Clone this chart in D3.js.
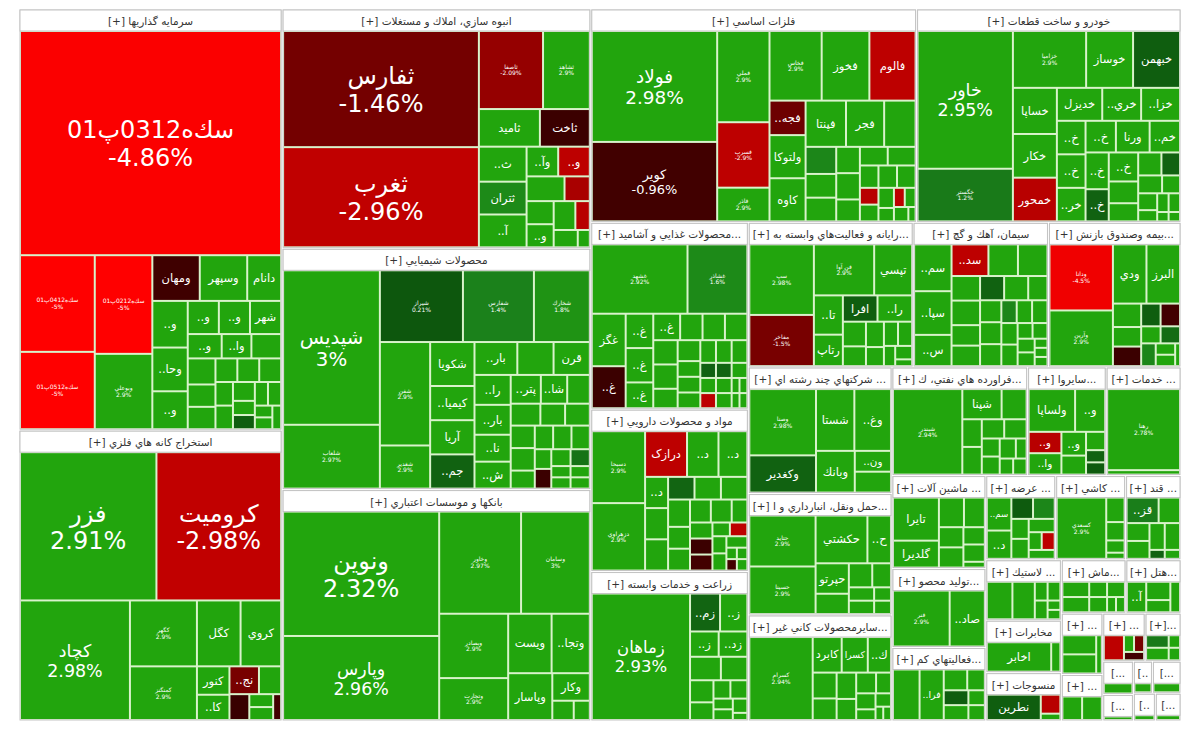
<!DOCTYPE html>
<html>
<head>
<meta charset="utf-8">
<script src="https://cdn.jsdelivr.net/npm/d3@7"></script>
<style>
body { margin: 0; background: #fff; }
svg { display: block; }
</style>
</head>
<body>
<div id="chart"></div>
<script>

// sector names, in the order they sit on the map
var sectorNames = [
    "سرمايه گذاريها", "استخراج كانه هاي فلزي", "انبوه سازي، املاك و مستغلات", "محصولات شيميايي",
    "بانكها و موسسات اعتباري", "فلزات اساسي", "خودرو و ساخت قطعات",
    "محصولات غذايي و آشاميدني به جز قند و شكر", "مواد و محصولات دارويي", "زراعت و خدمات وابسته",
    "رايانه و فعاليت‌هاي وابسته به آن", "سيمان، آهك و گچ", "بيمه وصندوق بازنشستگي به جزتامين اجتماعي",
    "شركتهاي چند رشته اي صنعتي", "حمل ونقل، انبارداري و ارتباطات", "سايرمحصولات كاني غيرفلزي",
    "فراورده هاي نفتي، كك و سوخت هسته اي", "سايرواسطه گريهاي مالي", "خدمات فني و مهندسي",
    "ماشين آلات و تجهيزات", "توليد محصولات فلزي", "فعاليتهاي كمكي به نهادهاي مالي واسط",
    "عرضه برق، گاز، بخاروآب گرم", "كاشي و سراميك", "قند و شكر",
    "لاستيك و پلاستيك", "مخابرات", "منسوجات", "ماشين آلات و دستگاههاي برقي", "هتل و رستوران",
    "محصولات كاغذي", "سايرشركتها", "ساخت دستگاهها و وسايل ارتباطي", "محصولات چوبي",
    "استخراج زغال سنگ", "انتشار، چاپ و تكثير", "استخراج ساير معادن", "دباغي، پرداخت چرم",
    "اطلاعات و ارتباطات", "استخراج نفت گاز"
];

// market weight of each sector (share of the map)
var sectorSizes = [
    1092, 754, 728, 734, 704, 685, 556,
    290, 252, 232, 235, 193, 189,
    179, 172, 150, 145, 84, 80,
    86, 73, 68, 58, 58, 46,
    45, 39, 36, 34, 29, 25, 19, 20, 17,
    10, 8, 6, 9, 6, 7
];

// [symbol, change %, weight]
var investStocks = [
    ["سك‌ه0312پ01", -4.86, 567], ["سك‌ه0412پ01", -5, 70], ["سك‌ه0512پ01", -5, 56], ["سك‌ه0212پ01", -5, 55],
    ["وبوعلي", 2.9, 42], ["ومهان", -0.9, 21], ["وسپهر", 2.9, 21], ["دانام", 2.9, 15],
    ["..و", 2.9, 16], ["..وحا", 2.9, 15], ["..و", 2.9, 13], ["..و", 2.9, 10], ["..و", 2.9, 10], ["شهر", 2.9, 10],
    ["..و", 2.9, 8], ["..وا", 2.9, 7], ["", 2.9, 7], ["", 2.9, 7], ["", 2.9, 6], ["", 2.9, 6], ["", 2.9, 5],
    ["", 2.9, 5], ["", 2.9, 5], ["", 2.9, 4], ["", 2.9, 4], ["", 2.9, 4], ["", 2.9, 3], ["", 0.4, 3],
    ["", 2.9, 3], ["", 2.9, 3], ["", 2.9, 2], ["", 2.9, 2], ["", 2.9, 2]
];
var miningStocks = [
    ["فزر", 2.91, 197], ["كروميت", -2.98, 180], ["كچاد", 2.98, 128], ["كگهر", 2.9, 43], ["كمنگنز", 2.9, 35],
    ["كگل", 2.9, 28], ["كروي", 2.9, 26], ["كنور", 2.9, 9], ["..كا", 2.9, 8], ["..نج", -1.5, 8],
    ["", 2.9, 6], ["", -0.7, 5], ["", 2.9, 3], ["", 2.9, 3], ["", -1, 2]
];
var buildStocks = [
    ["ثفارس", -1.46, 218], ["ثغرب", -2.96, 188], ["ثاصفا", -2.09, 48], ["ثشاهد", 2.9, 35], ["ثاميد", 2.9, 22],
    ["ثاخت", -0.8, 18], ["..ث", 2.9, 16], ["ثتران", 1.6, 15], ["..آ", 2.9, 15], ["..وآ", 2.9, 9],
    ["..و", -2.9, 9], ["", 2.9, 9], ["", -2.5, 6], ["", 2.9, 6], ["..و", 2.9, 6], ["", 2.9, 6],
    ["", -2.8, 4], ["", 2.9, 4], ["", 2.9, 2]
];
var chemStocks = [
    ["شپديس", 3, 138], ["شلعاب", 2.97, 57], ["شيراز", 0.21, 55], ["شفارس", 1.4, 47], ["شخارك", 1.8, 37],
    ["شفن", 2.9, 48], ["شغدير", 2.9, 20], ["شكويا", 2.9, 18], ["..كيميا", 2.9, 14], ["آريا", 2.9, 14],
    ["..جم", 0.5, 14], ["..بار", 2.9, 13], ["", 2.9, 11], ["قرن", 2.9, 11], ["..را", 2.9, 10], ["..بار", 2.9, 10],
    ["..نا", 2.9, 9], ["..ش", 2.9, 9], ["..پتر", 2.9, 8], ["..شا", 2.9, 7], ["", 2.9, 6], ["", 2.9, 6],
    ["", 2.9, 5], ["", 2.9, 5], ["", 2.9, 5], ["", 2.9, 5], ["", 2.9, 4], ["", 2.9, 4], ["", 2.9, 4],
    ["", 2.9, 4], ["", 2.9, 3], ["", -0.8, 3], ["", 2.9, 3], ["", 1.0, 3], ["", 2.9, 2], ["", 2.9, 2],
    ["", 2.9, 2], ["", 2.9, 2]
];
var bankStocks = [
    ["ونوين", 2.32, 188], ["وپارس", 2.96, 127], ["وخاور", 2.97, 81], ["وسامان", 3, 68], ["وبصادر", 2.9, 43],
    ["وتجارت", 2.9, 28], ["ويست", 2.9, 25], ["..وتجا", 2.9, 22], ["وپاسار", 2.9, 20], ["وكار", 2.9, 10],
    ["", 2.9, 4], ["", 2.9, 3]
];
var metalStocks = [
    ["فولاد", 2.98, 134], ["كوير", -0.96, 96], ["فملي", 2.9, 46], ["فسرب", -2.9, 33], ["فاذر", 2.9, 17],
    ["فخاس", 2.9, 35], ["فخوز", 2.9, 32], ["فالوم", -2.9, 31], ["..فجه", -1.4, 12], ["ولتوكا", 2.9, 15],
    ["كاوه", 2.9, 15], ["فپنتا", 2.9, 18], ["فجر", 2.9, 17], ["", 2.9, 14], ["", 1.5, 8], ["", 2.9, 7],
    ["", 2.9, 7], ["", 2.9, 6], ["", 2.9, 6], ["", 2.9, 5], ["", 2.9, 5], ["", 2.9, 5], ["", 2.9, 4],
    ["", 2.9, 4], ["", 2.9, 4], ["", -2.8, 3], ["", 2.9, 3], ["", 2.9, 3], ["", 2.9, 2], ["", -2.9, 2],
    ["", 2.9, 2], ["", 2.9, 2], ["", 2.9, 1]
];
var autoStocks = [
    ["خاور", 2.95, 123], ["خگستر", 1.2, 47], ["خزاميا", 2.9, 39], ["خوساز", 2.9, 25], ["خبهمن", 0.4, 25],
    ["خساپا", 2.9, 19], ["خكار", 2.9, 18], ["خمحور", -2.8, 18], ["خديزل", 2.9, 14], ["..خري", 2.9, 12],
    ["..خزا", 2.9, 12], ["..خ", 2.9, 9], ["..خ", 2.9, 9], ["..خر", 2.9, 9], ["..خ", 2.9, 9], ["ورنا", 2.9, 10],
    ["..خم", 2.9, 9], ["..خ", 2.9, 8], ["..خ", 0.5, 7], ["..خ", 2.9, 8], ["", 2.9, 6], ["", 2.9, 5],
    ["", 2.9, 5], ["", 0.5, 4], ["", 2.9, 4], ["", 2.9, 3], ["", 2.9, 3], ["", 2.9, 2], ["", 2.9, 2],
    ["", 2.9, 2], ["", 2.9, 1], ["", 2.9, 1]
];
var foodStocks = [
    ["غشهد", 2.92, 56], ["غشاذر", 1.6, 35], ["غگز", 2.9, 15], ["..غ", -0.8, 12], ["..غ", 2.9, 8], ["..غ", 2.9, 8],
    ["..غ", 2.9, 6], ["..غ", 2.9, 6], ["", 2.9, 5], ["", 2.9, 5], ["", 2.9, 5], ["", 2.9, 5], ["", 2.9, 5],
    ["", 2.9, 4], ["", 2.9, 4], ["", 2.9, 3], ["", 2.9, 3], ["", 2.9, 3], ["", 2.9, 3], ["", 2.9, 3],
    ["", 2.9, 3], ["", 0.5, 2], ["", 2.9, 2], ["", -2.9, 2], ["", 0.6, 2], ["", 2.9, 2], ["", 2.9, 2],
    ["", 2.9, 2], ["", 2.9, 1], ["", 2.9, 1], ["", 2.9, 1], ["", 2.9, 1]
];
var pharmaStocks = [
    ["دسبحا", 2.9, 32], ["دزهراوي", 2.9, 30], ["درازک", -2.9, 16], ["..د", 2.9, 12], ["..د", 2.9, 11],
    ["..د", 2.9, 6], ["", 2.9, 6], ["", 2.9, 6], ["", 0.6, 5], ["", 2.9, 5], ["", 2.9, 5], ["", 2.9, 5],
    ["", 2.9, 4], ["", 2.9, 4], ["", 2.9, 4], ["", 2.9, 4], ["", 2.9, 3], ["", 2.9, 3], ["", -0.8, 3],
    ["", -1, 3], ["", 2.9, 2], ["", -2.9, 2], ["", 2.9, 2], ["", 2.9, 2], ["", 2.9, 2], ["", 2.9, 1],
    ["", 2.9, 1], ["", -1, 1], ["", 2.9, 1]
];
var farmStocks = [
    ["زماهان", 2.93, 120], ["..زم", 0.6, 11], ["..ز", 2.9, 10], ["..ز", 2.9, 7], ["..زد", 2.9, 7], ["", 2.9, 7],
    ["", 2.9, 6], ["", 2.9, 5], ["", 2.9, 4], ["", 2.9, 3], ["", 2.9, 3], ["", 2.9, 2], ["", 2.9, 2],
    ["", 2.9, 2], ["", 2.9, 1]
];
var computerStocks = [
    ["سپ", 2.98, 40], ["مفاخر", -1.5, 29], ["فن آوا", 2.9, 27], ["تپسي", 2.9, 17], ["..تا", 2.9, 10],
    ["رتاپ", 2.9, 8], ["افرا", 0.4, 8], ["..را", 2.9, 8], ["", 2.9, 5], ["", 2.9, 4], ["", 2.9, 4],
    ["", 2.9, 3], ["", 2.9, 3], ["", 2.9, 3], ["", 2.9, 2], ["", 2.9, 2], ["", 2.9, 1]
];
var cementStocks = [
    ["..سم", 2.9, 15], ["..سپا", 2.9, 14], ["..س", 2.9, 10], ["..سد", -2.9, 10], ["", 2.9, 8], ["", 2.9, 8],
    ["", 2.9, 6], ["", 2.9, 6], ["", 2.9, 5], ["", 2.9, 5], ["", 0.5, 5], ["", 2.9, 5], ["", 2.9, 4],
    ["", 2.9, 4], ["", 2.9, 4], ["", 2.9, 4], ["", 1.5, 3], ["", 2.9, 3], ["", 2.9, 3], ["", 2.9, 3],
    ["", 2.9, 3], ["", 2.9, 2], ["", 2.9, 2], ["", 2.9, 2], ["", 2.9, 2], ["", 2.9, 1], ["", 2.9, 1],
    ["", 2.9, 1]
];
var insureStocks = [
    ["ودانا", -4.5, 38], ["وآرين", 2.9, 32], ["ودي", 2.9, 18], ["البرز", 2.9, 18], ["", 2.9, 6], ["", 2.9, 5],
    ["", -0.8, 5], ["", 0.4, 4], ["", -1, 4], ["", 2.9, 3], ["", 0.8, 3], ["", 1.5, 3], ["", 2.9, 2],
    ["", 2.9, 2], ["", 2.9, 1]
];
var multiStocks = [
    ["وصنا", 2.98, 41], ["وكغدير", 0.5, 23], ["شستا", 2.9, 22], ["..وغ", 2.9, 21], ["وبانك", 2.9, 15],
    ["..ون", 2.9, 7], ["", 2.9, 7]
];
var transportStocks = [
    ["حتايد", 2.9, 30], ["حسينا", 2.9, 28], ["حكشتي", 2.9, 22], ["..ح", 2.9, 10], ["حپرتو", 2.9, 9],
    ["", 2.9, 6], ["", 2.9, 5], ["", 2.9, 4], ["", 2.9, 3], ["", 2.9, 3], ["", 2.9, 2], ["", 2.9, 2]
];
var mineralStocks = [
    ["كسرام", 2.94, 51], ["كابرد", 2.9, 10], ["كسرا", 2.9, 9], ["..ك", 2.9, 8], ["", 2.9, 6], ["", 2.9, 5],
    ["", 2.9, 5], ["", 2.9, 4], ["", 2.9, 4], ["", 2.9, 3], ["", 2.9, 3], ["", 2.9, 2], ["", 2.9, 2],
    ["", 2.9, 1], ["", 2.9, 1]
];
var oilStocks = [
    ["شبندر", 2.94, 55], ["شپنا", 2.9, 11], ["", 2.9, 7], ["", 2.9, 5], ["", 2.9, 5], ["", 2.9, 4],
    ["", 2.9, 4], ["", 2.9, 3], ["", 2.9, 3], ["", 2.9, 3], ["", 2.9, 2], ["", 2.9, 2], ["", 2.9, 2]
];
var financeStocks = [
    ["ولساپا", 2.9, 17], ["..و", 2.9, 11], ["..و", -2.8, 6], ["..وا", 2.9, 6], ["..و", 2.9, 5], ["", 2.9, 4],
    ["", 2.9, 3], ["", 0.5, 2], ["", 0.3, 2]
];
var serviceStocks = [["رهنا", 2.78, 55], ["", 2.9, 3]];
var machineStocks = [
    ["تايرا", 2.9, 16], ["گلديرا", 2.9, 10], ["", 2.9, 6], ["", 2.9, 5], ["", 2.9, 4], ["", 2.9, 4],
    ["", 2.9, 3], ["", 2.9, 3], ["", 2.9, 1]
];
var metalProdStocks = [["فنر", 2.9, 29], ["..صاد", 2.9, 18]];
var auxStocks = [
    ["", 2.9, 11], ["..فرا", 2.9, 10], ["", 2.9, 4], ["", 2.9, 3], ["", 0.4, 3], ["", 2.9, 3], ["", 2.9, 2],
    ["", 2.9, 2]
];
var powerStocks = [
    ["..سم", 2.9, 7], ["..د", 2.9, 6], ["", 0.3, 4], ["", 1.5, 4], ["", 2.9, 3], ["", 2.9, 3], ["", 2.9, 3],
    ["", 2.9, 2], ["", -2.9, 2], ["", 2.9, 2]
];
var tileStocks = [["كسعدي", 2.9, 27], ["", 2.9, 4], ["", 2.9, 3], ["", 2.9, 2], ["", 2.9, 1]];
var sugarStocks = [
    ["..قز", 1.3, 6], ["", 2.9, 4], ["", 2.9, 3], ["", 2.9, 3], ["", 2.9, 3], ["", 2.9, 3], ["", 0.5, 1],
    ["", 2.9, 1]
];
var rubberStocks = [["", 2.9, 8], ["", 2.9, 7], ["", 2.9, 2], ["", 2.9, 2], ["", 2.9, 2], ["", 2.9, 1], ["", 2.9, 1]];
var telecomStocks = [["اخابر", 2.9, 14], ["", 2.9, 2]];
var textileStocks = [["نطرين", 0.4, 11], ["", -2.8, 3], ["", 2.9, 1]];
var electricStocks = [["", 2.9, 3], ["", 2.9, 3], ["", 2.9, 2], ["", 2.9, 2], ["", 2.9, 2], ["", 2.9, 1], ["", 2.9, 1]];
var hotelStocks = [["..آ", 2.9, 4], ["", 2.9, 3], ["", 2.9, 2], ["", 2.9, 2]];
var paperStocks = [["", 2.9, 3], ["", 2.9, 3], ["", 2.9, 1]];
var otherStocks = [["", 2.9, 2], ["", 2.9, 2]];
var deviceStocks = [["", -2.9, 3], ["", 2.9, 1], ["", -1.5, 1], ["", -1, 1]];
var woodStocks = [["", 1.2, 2], ["", 2.9, 2], ["", 2.9, 1], ["", 2.9, 1]];
var coalStocks = [["", 2.9, 1]];
var printStocks = [["", 2.9, 1]];
var otherMineStocks = [["", 2.9, 1]];
var leatherStocks = [["", 2.9, 1]];
var infoStocks = [["", 2.9, 1]];
var gasStocks = [["", 2.9, 1]];

var sectorStocks = [
    investStocks, miningStocks, buildStocks, chemStocks, bankStocks, metalStocks, autoStocks,
    foodStocks, pharmaStocks, farmStocks, computerStocks, cementStocks, insureStocks,
    multiStocks, transportStocks, mineralStocks, oilStocks, financeStocks, serviceStocks,
    machineStocks, metalProdStocks, auxStocks, powerStocks, tileStocks, sugarStocks,
    rubberStocks, telecomStocks, textileStocks, electricStocks, hotelStocks,
    paperStocks, otherStocks, deviceStocks, woodStocks,
    coalStocks, printStocks, otherMineStocks, leatherStocks, infoStocks, gasStocks
];

// symbols the map prints in small type with their change
var smallPrint = [
    "سك‌ه0412پ01", "سك‌ه0512پ01", "سك‌ه0212پ01", "وبوعلي", "كگهر", "كمنگنز", "ثاصفا", "ثشاهد",
    "شلعاب", "شيراز", "شفارس", "شخارك", "شفن", "شغدير", "وخاور", "وسامان", "وبصادر", "وتجارت",
    "فملي", "فسرب", "فاذر", "فخاس", "خگستر", "خزاميا", "غشهد", "غشاذر", "دسبحا", "دزهراوي",
    "سپ", "مفاخر", "فن آوا", "ودانا", "وآرين", "وصنا", "حتايد", "حسينا", "كسرام", "شبندر", "رهنا",
    "فنر", "كسعدي"
];


var width = 1200;
var height = 736;
var font = "DejaVu Sans, sans-serif";

var redScale = d3.scaleLinear()
    .domain([-5, -3, -1.5, -1, 0])
    .range(["#ff0000", "#c20000", "#780000", "#420000", "#200000"])
    .clamp(true);
var greenScale = d3.scaleLinear()
    .domain([0, 0.2, 1.4, 2.2])
    .range(["#073507", "#0d570d", "#1b811b", "#22a50d"])
    .clamp(true);

function tileColor(pct) {
    return pct < 0 ? redScale(pct) : greenScale(pct);
}

var data = {
    name: "bourse",
    children: sectorNames.map(function(name, i) {
        var list = sectorStocks[i];
        var total = d3.sum(list, function(s) { return s[2]; });
        return {
            name: name,
            children: list.map(function(s) {
                return { name: s[0], pct: s[1], size: sectorSizes[i] * s[2] / total };
            })
        };
    })
};

var root = d3.hierarchy(data).sum(function(d) { return d.children ? 0 : d.size; });

d3.treemap()
    .tile(d3.treemapSquarify.ratio(1))
    .size([1160, 710])
    .paddingInner(2)
    .paddingTop(function(d) { return d.depth === 1 ? 22 : 0; })
    .paddingLeft(function(d) { return d.depth === 1 ? 1 : 0; })
    .paddingRight(function(d) { return d.depth === 1 ? 1 : 0; })
    .paddingBottom(function(d) { return d.depth === 1 ? 1 : 0; })
    (root);

var svg = d3.select("#chart")
    .append("svg")
    .attr("width", width)
    .attr("height", height);

var map = svg.append("g").attr("transform", "translate(20,10)");

var sector = map.selectAll("g.sector")
    .data(root.children)
    .enter().append("g")
    .attr("class", "sector");

sector.append("rect")
    .attr("x", function(d) { return d.x0; })
    .attr("y", function(d) { return d.y0; })
    .attr("width", function(d) { return d.x1 - d.x0; })
    .attr("height", function(d) { return d.y1 - d.y0; })
    .attr("fill", "#d9f3cb")
    .attr("stroke", "#c3c3c3")
    .attr("stroke-width", 1);

sector.append("rect")
    .attr("x", function(d) { return d.x0; })
    .attr("y", function(d) { return d.y0; })
    .attr("width", function(d) { return d.x1 - d.x0; })
    .attr("height", function(d) { return Math.min(21, d.y1 - d.y0); })
    .attr("fill", "#fff")
    .attr("stroke", "#c3c3c3")
    .attr("stroke-width", 1);

sector.append("text")
    .attr("x", function(d) { return (d.x0 + d.x1) / 2; })
    .attr("y", function(d) { return d.y0 + 11; })
    .attr("text-anchor", "middle")
    .attr("dominant-baseline", "central")
    .attr("font-family", font)
    .attr("font-size", "10.5px")
    .attr("fill", "#333")
    .each(function(d) {
        // shorten long sector names to fit the header
        var el = d3.select(this);
        var room = d.x1 - d.x0 - 6;
        var name = d.data.name;
        el.text("[+] " + name);
        if (this.getComputedTextLength() <= room) return;
        while (name.length > 0) {
            name = name.slice(0, -1);
            el.text("[+] " + name + "...");
            if (this.getComputedTextLength() <= room) return;
        }
        var short = ["[+]...", "[...", "[..", "["];
        for (var i = 0; i < short.length; i++) {
            el.text(short[i]);
            if (this.getComputedTextLength() <= room) return;
        }
        el.text("");
    });

var leaf = map.selectAll("g.stock")
    .data(root.leaves())
    .enter().append("g")
    .attr("class", "stock");

leaf.append("rect")
    .attr("x", function(d) { return d.x0; })
    .attr("y", function(d) { return d.y0; })
    .attr("width", function(d) { return Math.max(0, d.x1 - d.x0); })
    .attr("height", function(d) { return Math.max(0, d.y1 - d.y0); })
    .attr("fill", function(d) { return tileColor(d.data.pct); });

leaf.each(function(d) {
    var g = d3.select(this);
    var w = d.x1 - d.x0, h = d.y1 - d.y0;
    var cx = (d.x0 + d.x1) / 2, cy = (d.y0 + d.y1) / 2;
    var name = d.data.name;
    if (!name) return;
    var pct = d.data.pct + "%";

    if (smallPrint.indexOf(name) >= 0) {
        var t = g.append("text")
            .attr("x", cx).attr("y", cy)
            .attr("text-anchor", "middle")
            .attr("font-family", font)
            .attr("font-size", "6px")
            .attr("fill", "#fff");
        t.append("tspan").attr("x", cx).attr("dy", "-0.2em").text(name);
        t.append("tspan").attr("x", cx).attr("dy", "1.1em").text(pct);
        return;
    }

    var side = Math.sqrt(w * h);
    if (side >= 95) {
        var big = Math.max(12, Math.min(24, (side - 55) / 3.3));
        var lines = g.append("text")
            .attr("text-anchor", "middle")
            .attr("font-family", font)
            .attr("font-size", big + "px")
            .attr("fill", "#fff");
        lines.append("tspan").attr("x", cx).attr("y", cy - big * 0.2).text(name);
        lines.append("tspan").attr("x", cx).attr("y", cy + big * 0.95).text(pct);
        var lw = lines.node().getBBox().width;
        if (lw > w - 8) {
            big = big * (w - 8) / lw;
            lines.attr("font-size", big + "px");
            lines.selectAll("tspan").each(function(x, i) {
                d3.select(this).attr("y", i === 0 ? cy - big * 0.2 : cy + big * 0.95);
            });
        }
        return;
    }

    var size = Math.min(11.5, h * 0.55);
    var label = g.append("text")
        .attr("x", cx).attr("y", cy)
        .attr("text-anchor", "middle")
        .attr("dominant-baseline", "central")
        .attr("font-family", font)
        .attr("font-size", size + "px")
        .attr("fill", "#fff")
        .text(name);
    var tw = label.node().getComputedTextLength();
    if (tw > w - 4) {
        size = size * (w - 4) / tw;
        label.attr("font-size", size + "px");
    }
    if (size < 6) label.remove();
});

</script>
</body>
</html>
